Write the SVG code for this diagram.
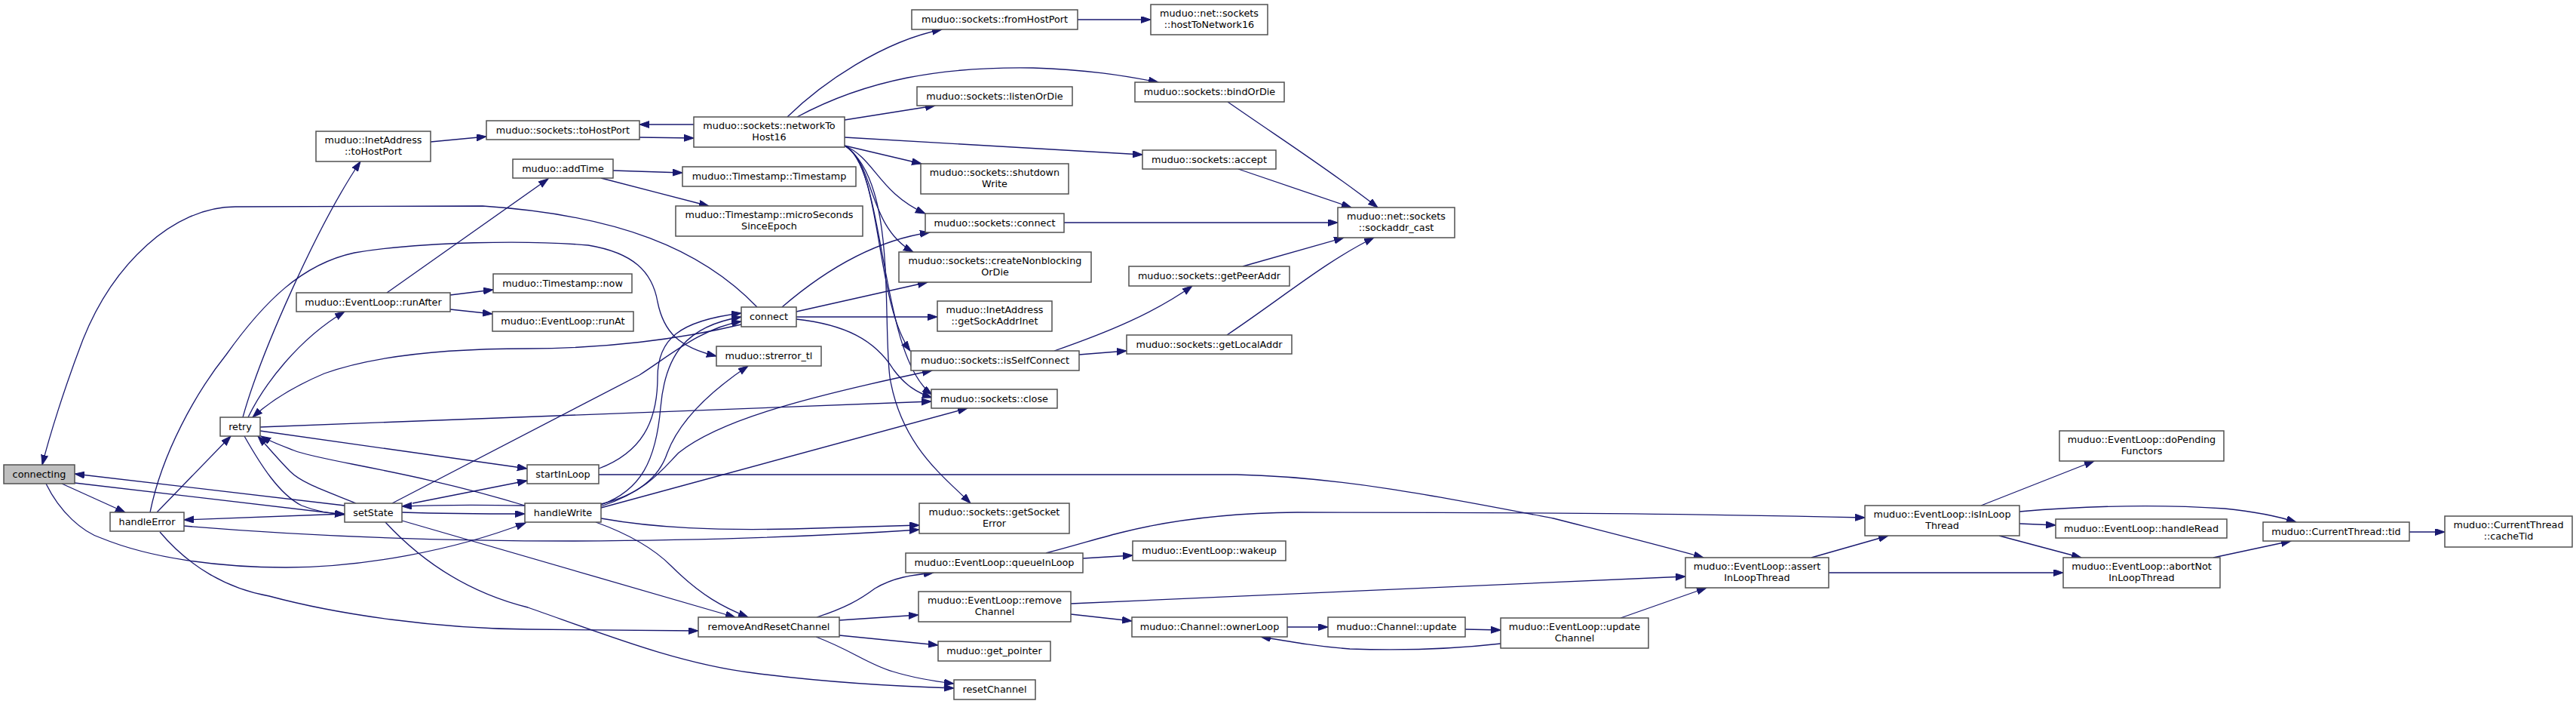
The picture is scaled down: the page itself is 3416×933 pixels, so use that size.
<svg xmlns="http://www.w3.org/2000/svg" width="3416" height="933" viewBox="0 0 3416 933">
<style>
.n rect{fill:#ffffff;stroke:#505050;stroke-width:1.5}
.n.root rect{fill:#bfbfbf}
.n text{font-family:"DejaVu Sans","Liberation Sans",sans-serif;font-size:12.8px;fill:#000;text-anchor:middle}
#edges path{fill:none;stroke:#191970;stroke-width:1.3;marker-end:url(#ah)}
</style>
<defs>
<marker id="ah" markerUnits="userSpaceOnUse" markerWidth="14" markerHeight="10" refX="13" refY="4.5" orient="auto">
<path d="M0,0 L13,4.5 L0,9 z" fill="#191970" stroke="#191970" stroke-width="1"/>
</marker>
</defs>
<rect width="3416" height="933" fill="#ffffff"/>
<g id="edges">
<path d="M571,188 L645,181"/>
<path d="M848,182 L920,183"/>
<path d="M920,165 L848,165"/>
<path d="M1044,155 C1090,110 1170,55 1249,39"/>
<path d="M1057,155 C1150,105 1250,88 1370,90 C1440,92 1490,100 1536,109"/>
<path d="M1120,159 L1240,140"/>
<path d="M1120,182 L1515,205"/>
<path d="M1120,193 L1222,217"/>
<path d="M1120,193 C1160,210 1165,255 1227,283"/>
<path d="M1120,193 C1160,215 1150,300 1211,334"/>
<path d="M1120,193 C1170,220 1160,400 1207,465"/>
<path d="M1120,193 C1175,220 1165,470 1236,523"/>
<path d="M1120,193 C1190,240 1170,420 1180,500 C1195,590 1250,630 1287,667"/>
<path d="M1429,26 L1526,26"/>
<path d="M1628,135 C1700,185 1770,230 1827,275"/>
<path d="M1642,224 L1792,275"/>
<path d="M1411,295 L1774,295"/>
<path d="M1648,353 L1782,315"/>
<path d="M1627,444 C1700,395 1760,345 1822,315"/>
<path d="M1398,465 C1470,440 1530,415 1581,379"/>
<path d="M1431,470 L1494,465"/>
<path d="M513,388 L727,237"/>
<path d="M597,391 L654,384"/>
<path d="M597,410 L653,416"/>
<path d="M813,226 L905,229"/>
<path d="M797,236 L940,273"/>
<path d="M322,553 C345,470 420,300 478,214"/>
<path d="M329,553 C350,510 395,450 457,413"/>
<path d="M345,566 L1235,532"/>
<path d="M345,571 L699,621"/>
<path d="M324,578 C345,615 370,655 400,670 C420,678 440,681 457,681"/>
<path d="M472,667 C430,650 400,640 385,625 C370,610 355,592 342,578"/>
<path d="M696,670 C550,625 420,610 390,597 C372,590 358,585 346,578"/>
<path d="M983,430 C900,450 800,462 700,462 C600,462 500,470 430,495 C390,512 360,530 335,553"/>
<path d="M1004,407 C930,330 820,285 640,273 L312,274 C230,274 150,350 110,450 C85,515 65,580 56,616"/>
<path d="M82,641 L166,679"/>
<path d="M99,640 L457,682"/>
<path d="M457,670 L99,628"/>
<path d="M61,641 C80,680 110,705 134,713 C200,740 290,752 379,752 C480,752 600,730 697,693"/>
<path d="M457,681 L244,689"/>
<path d="M208,679 L306,578"/>
<path d="M199,679 C215,600 260,520 300,470 C350,400 400,350 470,335 C560,320 700,318 780,325 C840,335 865,360 872,400 C880,440 900,460 950,472"/>
<path d="M244,697 C400,710 560,717 760,717 C950,716 1100,710 1219,702"/>
<path d="M212,705 C250,750 300,780 357,790 C450,815 580,833 700,834 C800,835 880,836 926,836"/>
<path d="M533,679 C600,681 650,681 696,681"/>
<path d="M696,670 C640,669 580,669 533,671"/>
<path d="M547,667 L699,637"/>
<path d="M520,667 L848,497 C890,470 930,435 983,426"/>
<path d="M794,621 C850,600 872,560 872,500 C872,450 900,425 983,415"/>
<path d="M797,669 C850,650 870,610 876,540 C882,470 910,432 983,420"/>
<path d="M797,668 C850,655 875,630 885,600 C900,560 940,520 992,485"/>
<path d="M797,671 C860,650 880,620 900,600 C950,560 1050,530 1236,491"/>
<path d="M797,673 L1283,541"/>
<path d="M797,687 C870,700 950,703 1050,701 C1120,699 1180,697 1219,696"/>
<path d="M790,692 C840,710 870,730 890,750 C930,790 960,805 992,818"/>
<path d="M533,690 L975,818"/>
<path d="M511,692 C560,745 620,785 700,805 C800,840 900,880 1000,892 C1100,905 1200,910 1265,912"/>
<path d="M1082,844 C1130,862 1150,880 1184,890 C1210,898 1240,903 1265,906"/>
<path d="M1083,818 C1120,806 1140,795 1160,780 C1185,765 1210,762 1238,759"/>
<path d="M1113,822 L1218,815"/>
<path d="M1113,842 L1244,855"/>
<path d="M1436,740 L1502,736"/>
<path d="M1387,733 C1430,722 1460,712 1490,705 C1550,690 1620,680 1720,679 C2000,679 2300,682 2473,686"/>
<path d="M1420,800 L2235,764"/>
<path d="M1420,814 L1501,823"/>
<path d="M1707,831 L1761,831"/>
<path d="M1943,834 L1990,835"/>
<path d="M1990,853 C1920,861 1850,862 1790,860 C1750,857 1720,852 1672,844"/>
<path d="M2149,819 L2263,779"/>
<path d="M794,629 L1640,629 C1780,632 1920,660 2060,687 C2150,710 2210,725 2259,739"/>
<path d="M2402,739 L2504,710"/>
<path d="M2425,759 L2736,759"/>
<path d="M2627,670 L2777,611"/>
<path d="M2678,678 C2760,671 2860,668 2950,674 C2990,678 3020,684 3045,692"/>
<path d="M2678,694 L2726,696"/>
<path d="M2651,710 L2760,739"/>
<path d="M2935,739 L3038,717"/>
<path d="M3195,705 L3242,705"/>
<path d="M1037,407 C1080,370 1150,320 1233,308"/>
<path d="M1056,413 L1230,374"/>
<path d="M1056,420 L1243,420"/>
<path d="M1056,423 C1120,430 1160,450 1185,490 C1200,510 1215,520 1236,527"/>
</g>
<g id="n_connecting" class="n root"><rect x="5" y="616" width="94" height="25"/><text x="52" y="633">connecting</text></g>
<g id="n_handleError" class="n"><rect x="146" y="679" width="98" height="25"/><text x="195" y="696">handleError</text></g>
<g id="n_retry" class="n"><rect x="292" y="553" width="53" height="25"/><text x="318.5" y="570">retry</text></g>
<g id="n_setState" class="n"><rect x="457" y="667" width="76" height="25"/><text x="495" y="684">setState</text></g>
<g id="n_inetToHostPort" class="n"><rect x="419" y="174" width="152" height="40"/><text x="495" y="190">muduo::InetAddress</text><text x="495" y="205">::toHostPort</text></g>
<g id="n_runAfter" class="n"><rect x="393" y="388" width="204" height="25"/><text x="495" y="405">muduo::EventLoop::runAfter</text></g>
<g id="n_sockToHostPort" class="n"><rect x="645" y="160" width="203" height="25"/><text x="746.5" y="177">muduo::sockets::toHostPort</text></g>
<g id="n_addTime" class="n"><rect x="680" y="211" width="133" height="25"/><text x="746.5" y="228">muduo::addTime</text></g>
<g id="n_now" class="n"><rect x="654" y="363" width="184" height="25"/><text x="746" y="380">muduo::Timestamp::now</text></g>
<g id="n_runAt" class="n"><rect x="653" y="413" width="187" height="26"/><text x="746.5" y="430">muduo::EventLoop::runAt</text></g>
<g id="n_startInLoop" class="n"><rect x="699" y="616" width="95" height="25"/><text x="746.5" y="633">startInLoop</text></g>
<g id="n_handleWrite" class="n"><rect x="696" y="667" width="101" height="25"/><text x="746.5" y="684">handleWrite</text></g>
<g id="n_networkToHost16" class="n"><rect x="920" y="155" width="200" height="40"/><text x="1020" y="171">muduo::sockets::networkTo</text><text x="1020" y="186">Host16</text></g>
<g id="n_timestamp" class="n"><rect x="905" y="221" width="230" height="26"/><text x="1020" y="238">muduo::Timestamp::Timestamp</text></g>
<g id="n_microSeconds" class="n"><rect x="896" y="273" width="248" height="40"/><text x="1020" y="289">muduo::Timestamp::microSeconds</text><text x="1020" y="304">SinceEpoch</text></g>
<g id="n_connect" class="n"><rect x="983" y="407" width="73" height="26"/><text x="1019.5" y="424">connect</text></g>
<g id="n_strerror" class="n"><rect x="950" y="459" width="139" height="26"/><text x="1019.5" y="476">muduo::strerror_tl</text></g>
<g id="n_removeAndReset" class="n"><rect x="926" y="818" width="187" height="26"/><text x="1019.5" y="835">removeAndResetChannel</text></g>
<g id="n_fromHostPort" class="n"><rect x="1209" y="13" width="220" height="26"/><text x="1319" y="30">muduo::sockets::fromHostPort</text></g>
<g id="n_listenOrDie" class="n"><rect x="1216" y="115" width="206" height="25"/><text x="1319" y="132">muduo::sockets::listenOrDie</text></g>
<g id="n_shutdownWrite" class="n"><rect x="1221" y="217" width="196" height="40"/><text x="1319" y="233">muduo::sockets::shutdown</text><text x="1319" y="248">Write</text></g>
<g id="n_sockConnect" class="n"><rect x="1227" y="283" width="184" height="25"/><text x="1319" y="300">muduo::sockets::connect</text></g>
<g id="n_createNonblocking" class="n"><rect x="1192" y="334" width="255" height="40"/><text x="1319.5" y="350">muduo::sockets::createNonblocking</text><text x="1319.5" y="365">OrDie</text></g>
<g id="n_getSockAddrInet" class="n"><rect x="1243" y="399" width="152" height="40"/><text x="1319" y="415">muduo::InetAddress</text><text x="1319" y="430">::getSockAddrInet</text></g>
<g id="n_isSelfConnect" class="n"><rect x="1208" y="465" width="223" height="26"/><text x="1319.5" y="482">muduo::sockets::isSelfConnect</text></g>
<g id="n_close" class="n"><rect x="1235" y="516" width="167" height="25"/><text x="1318.5" y="533">muduo::sockets::close</text></g>
<g id="n_getSocketError" class="n"><rect x="1219" y="667" width="199" height="40"/><text x="1318.5" y="683">muduo::sockets::getSocket</text><text x="1318.5" y="698">Error</text></g>
<g id="n_queueInLoop" class="n"><rect x="1201" y="733" width="235" height="26"/><text x="1318.5" y="750">muduo::EventLoop::queueInLoop</text></g>
<g id="n_removeChannel" class="n"><rect x="1218" y="784" width="202" height="40"/><text x="1319" y="800">muduo::EventLoop::remove</text><text x="1319" y="815">Channel</text></g>
<g id="n_getPointer" class="n"><rect x="1244" y="850" width="149" height="26"/><text x="1318.5" y="867">muduo::get_pointer</text></g>
<g id="n_resetChannel" class="n"><rect x="1265" y="901" width="108" height="26"/><text x="1319" y="918">resetChannel</text></g>
<g id="n_hostToNetwork16" class="n"><rect x="1526" y="6" width="155" height="40"/><text x="1603.5" y="22">muduo::net::sockets</text><text x="1603.5" y="37">::hostToNetwork16</text></g>
<g id="n_bindOrDie" class="n"><rect x="1505" y="109" width="198" height="26"/><text x="1604" y="126">muduo::sockets::bindOrDie</text></g>
<g id="n_accept" class="n"><rect x="1515" y="199" width="177" height="25"/><text x="1603.5" y="216">muduo::sockets::accept</text></g>
<g id="n_getPeerAddr" class="n"><rect x="1497" y="353" width="213" height="26"/><text x="1603.5" y="370">muduo::sockets::getPeerAddr</text></g>
<g id="n_getLocalAddr" class="n"><rect x="1494" y="444" width="219" height="25"/><text x="1603.5" y="461">muduo::sockets::getLocalAddr</text></g>
<g id="n_wakeup" class="n"><rect x="1502" y="717" width="203" height="26"/><text x="1603.5" y="734">muduo::EventLoop::wakeup</text></g>
<g id="n_ownerLoop" class="n"><rect x="1501" y="818" width="206" height="26"/><text x="1604" y="835">muduo::Channel::ownerLoop</text></g>
<g id="n_sockaddrCast" class="n"><rect x="1774" y="275" width="155" height="40"/><text x="1851.5" y="291">muduo::net::sockets</text><text x="1851.5" y="306">::sockaddr_cast</text></g>
<g id="n_channelUpdate" class="n"><rect x="1761" y="818" width="182" height="26"/><text x="1852" y="835">muduo::Channel::update</text></g>
<g id="n_updateChannel" class="n"><rect x="1990" y="819" width="196" height="40"/><text x="2088" y="835">muduo::EventLoop::update</text><text x="2088" y="850">Channel</text></g>
<g id="n_assertInLoop" class="n"><rect x="2235" y="739" width="190" height="40"/><text x="2330" y="755">muduo::EventLoop::assert</text><text x="2330" y="770">InLoopThread</text></g>
<g id="n_isInLoop" class="n"><rect x="2473" y="670" width="205" height="40"/><text x="2575.5" y="686">muduo::EventLoop::isInLoop</text><text x="2575.5" y="701">Thread</text></g>
<g id="n_doPending" class="n"><rect x="2731" y="571" width="218" height="40"/><text x="2840" y="587">muduo::EventLoop::doPending</text><text x="2840" y="602">Functors</text></g>
<g id="n_handleRead" class="n"><rect x="2726" y="688" width="227" height="25"/><text x="2839.5" y="705">muduo::EventLoop::handleRead</text></g>
<g id="n_abortNotInLoop" class="n"><rect x="2736" y="739" width="208" height="40"/><text x="2840" y="755">muduo::EventLoop::abortNot</text><text x="2840" y="770">InLoopThread</text></g>
<g id="n_tid" class="n"><rect x="3001" y="692" width="194" height="25"/><text x="3098" y="709">muduo::CurrentThread::tid</text></g>
<g id="n_cacheTid" class="n"><rect x="3242" y="684" width="169" height="41"/><text x="3326.5" y="700">muduo::CurrentThread</text><text x="3326.5" y="715">::cacheTid</text></g>
</svg>
